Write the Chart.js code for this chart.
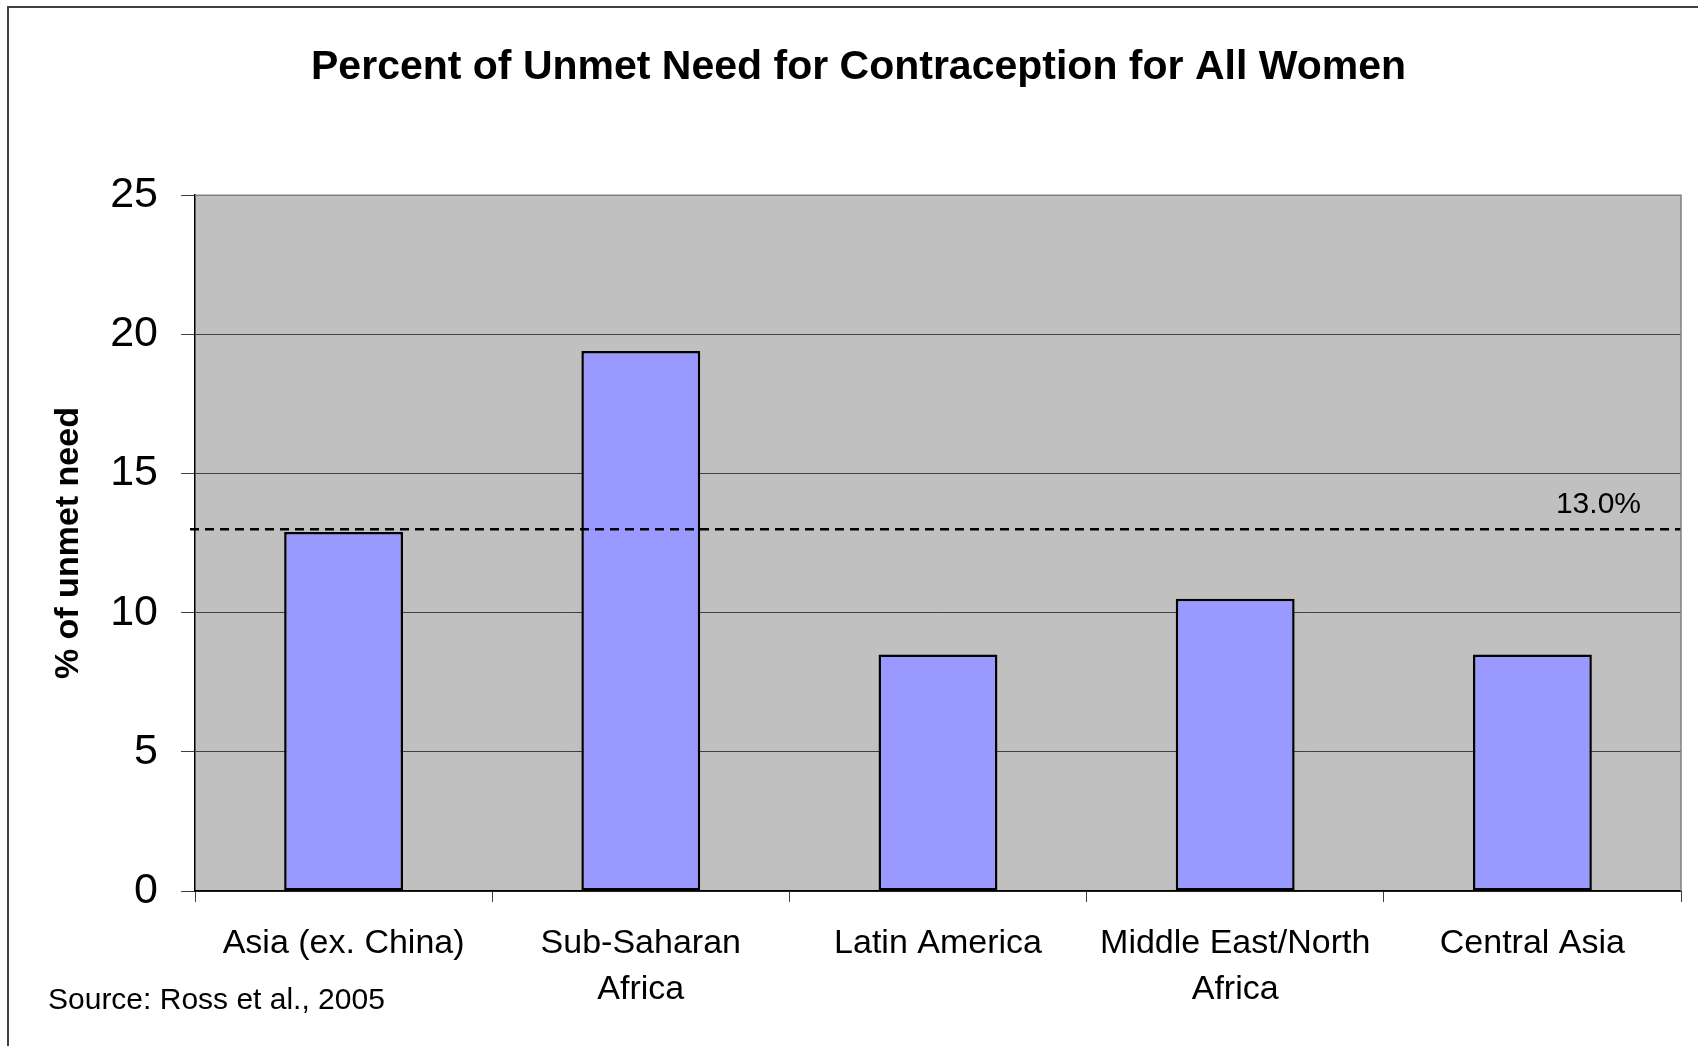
<!DOCTYPE html>
<html>
<head>
<meta charset="utf-8">
<script src="https://cdn.jsdelivr.net/npm/chart.js@4"></script>
<style>
  html, body { margin: 0; padding: 0; background: #fff; }
  #wrap { width: 1698px; height: 1046px; position: relative; }
</style>
</head>
<body>
<div id="wrap"><canvas id="chart"></canvas></div>
<script>
// chart data
const regions = [["Asia (ex. China)"], ["Sub-Saharan", "Africa"], ["Latin America"], ["Middle East/North", "Africa"], ["Central Asia"]];
const unmetNeed = [12.9, 19.4, 8.5, 10.5, 8.5];
const averageNeed = 13.0;
const yTicks = [0, 5, 10, 15, 20, 25];
const sourceNote = "Source: Ross et al., 2005";

const FONT = '"Liberation Sans", Arial, sans-serif';

// grey plot background + top/right border
const plotBackground = {
  id: "plotBackground",
  beforeDraw(chart) {
    const { ctx, chartArea: a } = chart;
    ctx.save();
    ctx.fillStyle = "#c0c0c0";
    ctx.fillRect(a.left, a.top, a.right - a.left, a.bottom - a.top);
    ctx.restore();
  },
  afterDraw(chart) {
    const { ctx, chartArea: a } = chart;
    ctx.save();
    ctx.strokeStyle = "#808080";
    ctx.lineWidth = 1.5;
    ctx.beginPath();
    ctx.moveTo(a.left, a.top);
    ctx.lineTo(a.right, a.top);
    ctx.lineTo(a.right, a.bottom);
    ctx.stroke();
    ctx.restore();
  }
};

// dashed average line with its label
const averageLine = {
  id: "averageLine",
  afterDatasetsDraw(chart) {
    const { ctx, chartArea: a, scales: { y } } = chart;
    const yPix = y.getPixelForValue(averageNeed);
    ctx.save();
    ctx.strokeStyle = "#000";
    ctx.lineWidth = 2.5;
    ctx.setLineDash([9, 6]);
    ctx.beginPath();
    ctx.moveTo(a.left - 5, yPix);
    ctx.lineTo(a.right, yPix);
    ctx.stroke();
    ctx.setLineDash([]);
    ctx.fillStyle = "#000";
    ctx.font = "30px " + FONT;
    ctx.textAlign = "right";
    ctx.textBaseline = "middle";
    ctx.fillText(averageNeed.toFixed(1) + "%", a.right - 40, yPix - 24);
    ctx.restore();
  }
};

// outer frame and source note
const frameAndSource = {
  id: "frameAndSource",
  afterDraw(chart) {
    const { ctx, width, height } = chart;
    ctx.save();
    ctx.strokeStyle = "#404040";
    ctx.lineWidth = 2;
    ctx.beginPath();
    ctx.moveTo(8, height);
    ctx.lineTo(8, 7);
    ctx.lineTo(width, 7);
    ctx.stroke();
    ctx.fillStyle = "#000";
    ctx.font = "30px " + FONT;
    ctx.textAlign = "left";
    ctx.textBaseline = "middle";
    ctx.fillText(sourceNote, 48, 1001);
    ctx.restore();
  }
};

const ctx = document.getElementById("chart").getContext("2d");
new Chart(ctx, {
  type: "bar",
  data: {
    labels: regions,
    datasets: [{
      label: "% of unmet need",
      data: unmetNeed,
      backgroundColor: "#9999ff",
      borderColor: "#000",
      borderWidth: 2.5,
      borderSkipped: false,
      categoryPercentage: 0.8,
      barPercentage: 0.5
    }]
  },
  options: {
    responsive: true,
    maintainAspectRatio: false,
    animation: false,
    layout: { padding: { left: 36, right: 17, top: 0, bottom: 0 } },
    plugins: {
      legend: { display: false },
      tooltip: { enabled: false },
      title: {
        display: true,
        text: "Percent of Unmet Need for Contraception for All Women",
        color: "#000",
        font: { family: FONT, size: 41, weight: "bold" },
        padding: { top: 43, bottom: 103 }
      }
    },
    scales: {
      x: {
        offset: true,
        ticks: {
          color: "#000",
          font: { family: FONT, size: 34, lineHeight: 1.35 },
          padding: 19,
          maxRotation: 0,
          autoSkip: false
        },
        grid: { offset: true, drawOnChartArea: false, drawTicks: true, tickLength: 11, color: "#404040" },
        border: { color: "#000", width: 1.5 },
        afterFit(s) { s.height = 155; }
      },
      y: {
        min: yTicks[0],
        max: yTicks[yTicks.length - 1],
        ticks: {
          stepSize: yTicks[1] - yTicks[0],
          color: "#000",
          font: { family: FONT, size: 43 },
          padding: 23
        },
        grid: { color: "#404040", lineWidth: 1, tickLength: 14 },
        border: { color: "#000", width: 1.5 },
        title: {
          display: true,
          text: "% of unmet need",
          color: "#000",
          font: { family: FONT, size: 34, weight: "bold" },
          padding: { top: 12, bottom: 0 }
        },
        afterFit(s) { s.width = 159; }
      }
    }
  },
  plugins: [plotBackground, averageLine, frameAndSource]
});
</script>
</body>
</html>
